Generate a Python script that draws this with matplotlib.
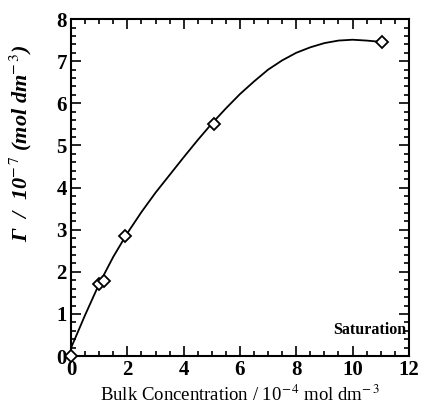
import matplotlib
matplotlib.use('Agg')
import matplotlib.pyplot as plt
from matplotlib.ticker import MultipleLocator

plt.rcParams['font.family'] = 'Liberation Serif'
plt.rcParams['mathtext.fontset'] = 'stix'

# measured points
conc = [0.0, 1.0, 1.15, 1.93, 5.08, 11.06]
gamma = [0.0, 1.72, 1.78, 2.85, 5.52, 7.46]

# fitted curve
curve_x = [0, 0.5, 1.0, 1.5, 2.0, 2.5, 3.0, 3.5, 4.0, 4.5, 5.0, 5.5,
           6.0, 6.5, 7.0, 7.5, 8.0, 8.5, 9.0, 9.5, 10.0, 10.5, 11.0]
curve_y = [0.2, 0.98, 1.72, 2.36, 2.92, 3.42, 3.88, 4.3, 4.72, 5.13, 5.52, 5.88,
           6.22, 6.52, 6.8, 7.02, 7.2, 7.33, 7.43, 7.49, 7.51, 7.49, 7.46]

fig = plt.figure(figsize=(4.21, 4.15), dpi=100)
ax = fig.add_axes([0.169, 0.142, 0.802, 0.812])

ax.plot(curve_x, curve_y, color='black', lw=1.3)
ax.plot(conc, gamma, linestyle='none', marker='D', markersize=6,
        markerfacecolor='white', markeredgecolor='black', markeredgewidth=1.3,
        clip_on=False, zorder=5)

ax.set_xlim(0, 12)
ax.set_ylim(0, 8)
ax.xaxis.set_major_locator(MultipleLocator(2))
ax.xaxis.set_minor_locator(MultipleLocator(0.5))
ax.yaxis.set_major_locator(MultipleLocator(1))
ax.yaxis.set_minor_locator(MultipleLocator(0.2))
ax.tick_params(which='both', direction='in', top=True, right=True, width=1.2)
ax.tick_params(which='major', length=7, labelsize=15, pad=3)
ax.tick_params(which='minor', length=3.5)
for lab in ax.get_xticklabels() + ax.get_yticklabels():
    lab.set_fontweight('bold')
for s in ax.spines.values():
    s.set_linewidth(1.5)

ax.text(11.9, 0.62, 'Saturation', fontsize=11.5, fontweight='bold', ha='right', va='center')

ax.set_xlabel(r'Bulk Concentration / 10$^{-\,4}$ mol dm$^{-\,3}$', fontsize=13.5,
              labelpad=3)
ax.set_ylabel('Γ  /  10$^{-\\,7}$ (mol dm$^{-\\,3}$)', fontsize=16,
              fontweight='bold', fontstyle='italic')
ax.yaxis.set_label_coords(-0.11, 0.63)

fig.savefig('out.png', dpi=100)
